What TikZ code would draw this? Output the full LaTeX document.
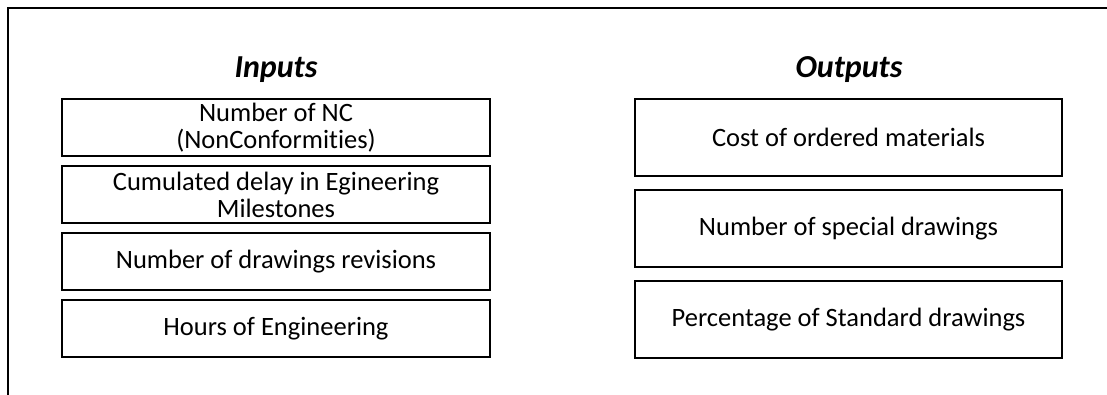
\documentclass[tikz,border=0pt]{standalone}
\usepackage{fontspec}
\setmainfont[Ligatures=NoCommon]{Carlito}
\usepackage{tikz}
\usetikzlibrary{positioning}

\begin{document}
\begin{tikzpicture}[
  x=1pt, y=1pt,
  node distance=8pt,
  box/.style={draw, line width=2pt, align=center, inner sep=0pt,
              font=\fontsize{26.5}{27}\selectfont},
  inbox/.style={box, minimum width=428pt, minimum height=57pt},
  outbox/.style={box, minimum width=427pt, minimum height=77pt},
  heading/.style={anchor=base, font=\fontsize{32}{36}\selectfont\bfseries\itshape},
  frame/.style={draw, line width=2.4pt},
]
\useasboundingbox (0,0) rectangle (1107,-395);
\draw[frame] (8,-395) -- (8,-8) -- (1107,-8);

\node[heading] (intitle) at (276,-78) {Inputs};
\node[heading] (outtitle) at (849,-78) {Outputs};

\node[inbox] (nc) at (276,-127.5) {Number of NC\\ (NonConformities)};
\node[inbox, below=of nc] (delay) {Cumulated delay in Egineering\\ Milestones};
\node[inbox, below=of delay] (revs) {Number of drawings revisions};
\node[inbox, below=of revs] (hours) {Hours of Engineering};

\node[outbox] (cost) at (848.5,-137.5) {Cost of ordered materials};
\node[outbox, below=12pt of cost] (special) {Number of special drawings};
\node[outbox, below=12pt of special] (std) {Percentage of Standard drawings};
\end{tikzpicture}
\end{document}
